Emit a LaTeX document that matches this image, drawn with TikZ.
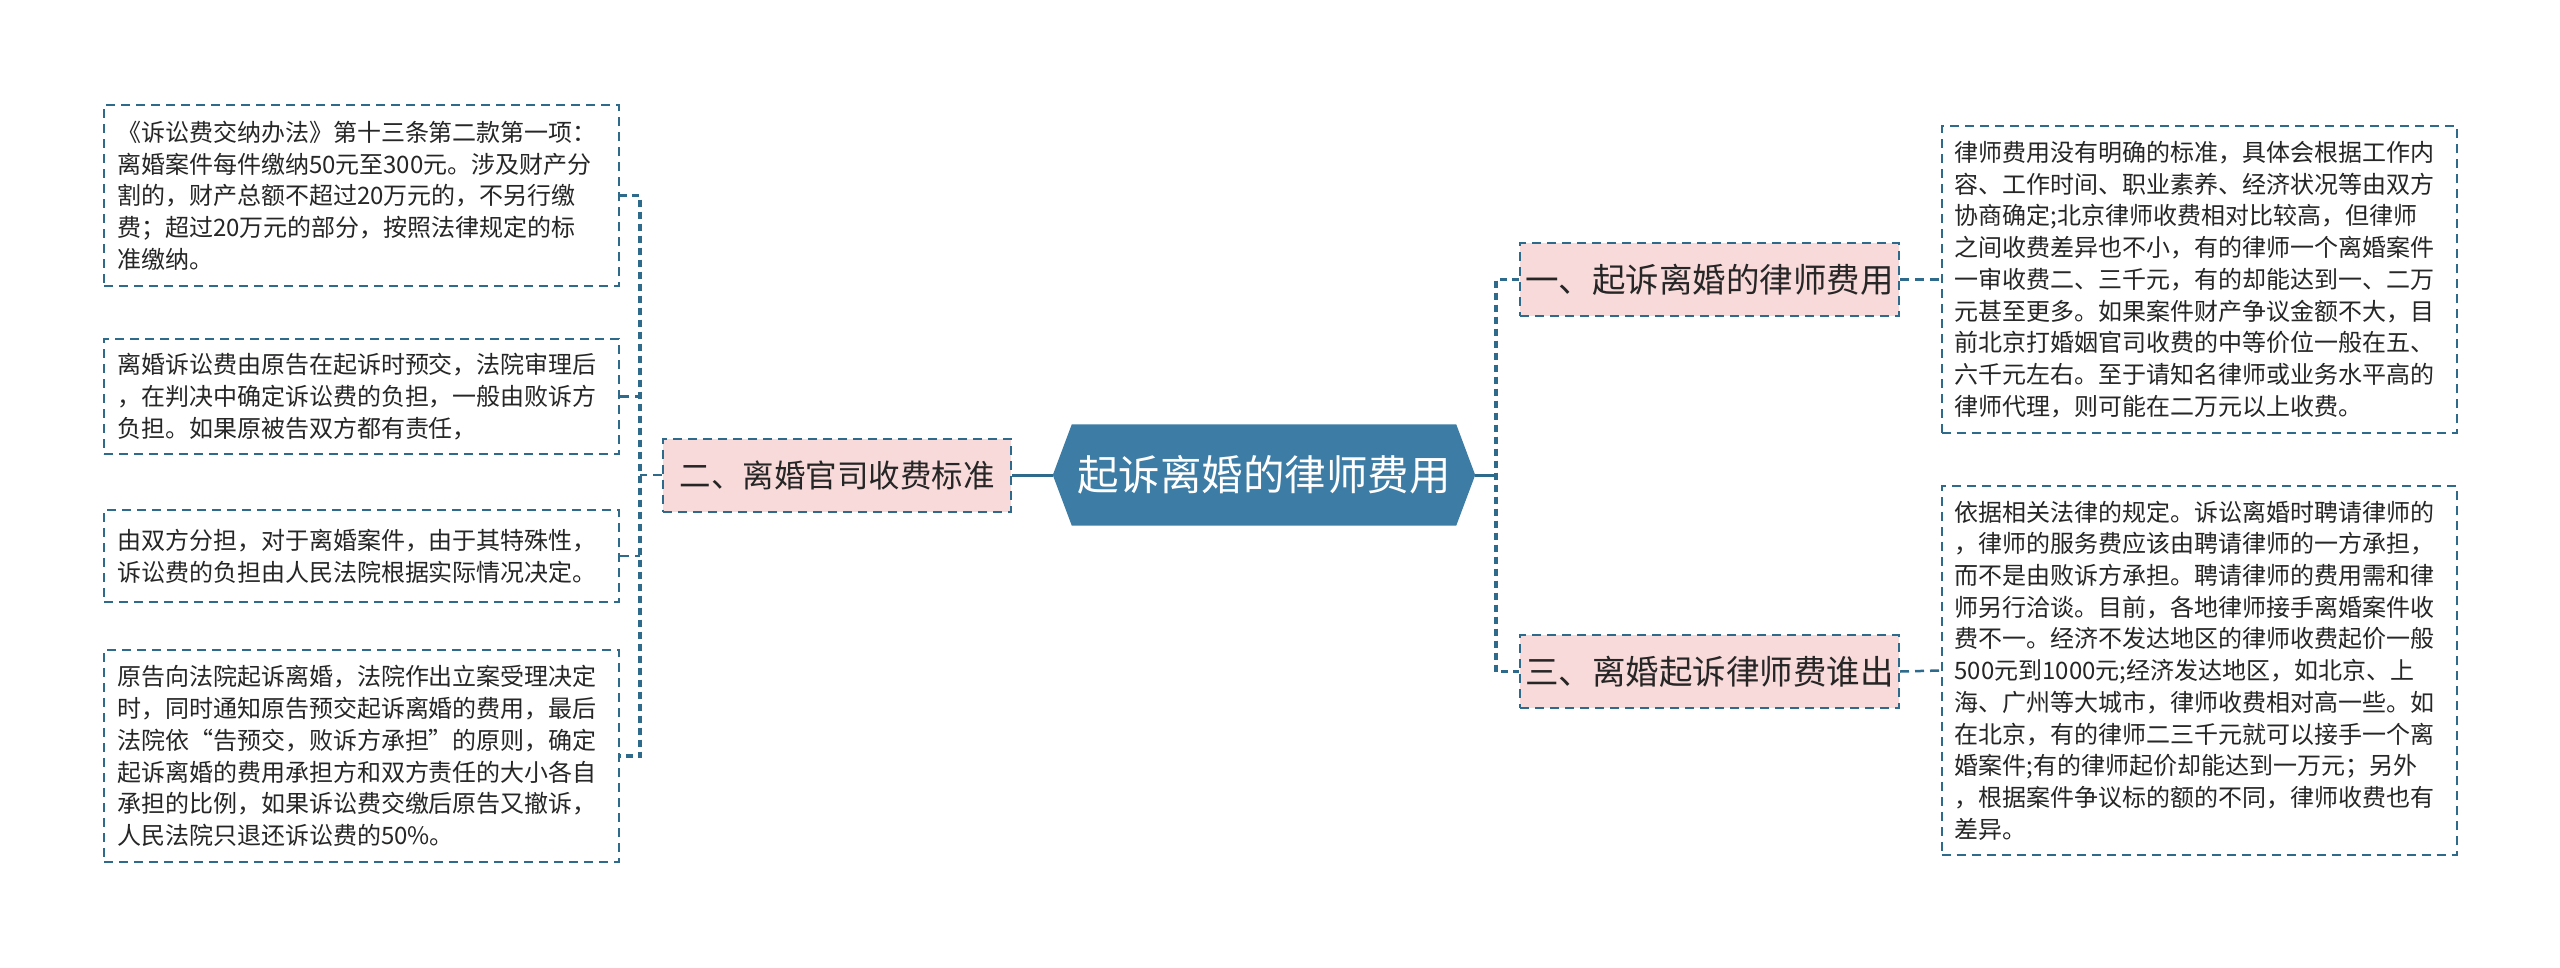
\documentclass[tikz,border=0pt]{standalone}
\usepackage{fontspec}
\setmainfont{Noto Sans CJK SC}
\usetikzlibrary{calc}
\definecolor{lineblue}{HTML}{2E6A8C}
\definecolor{pinkfill}{HTML}{F9DADA}
\definecolor{hexfill}{HTML}{3D7CA4}
\definecolor{txt}{HTML}{262626}
\pgfdeclarelayer{bg}
\pgfsetlayers{bg,main}
\begin{document}
\begin{tikzpicture}[x=1pt,y=-1pt,
  leaf/.style={draw=lineblue, line width=2pt, dash pattern=on 9pt off 6pt, fill=white,
    rectangle, inner xsep=13pt, inner ysep=0pt, text width=489pt, align=left,
    minimum width=515pt, font=\fontsize{24}{31.7}\selectfont, text=txt},
  branch/.style={draw=lineblue, line width=2pt, dash pattern=on 9pt off 6pt, fill=pinkfill,
    rectangle, inner sep=0pt, minimum height=73pt, text=txt},
  conn/.style={draw=lineblue, line width=2.5pt, dash pattern=on 9pt off 6pt},
  trunk/.style={draw=lineblue, line width=3.5pt, dash pattern=on 7pt off 5pt},
  main/.style={draw=lineblue, line width=3pt}
]
\begin{pgfonlayer}{bg}
\fill[white] (0,0) rectangle (2560,967);
\end{pgfonlayer}
\useasboundingbox (0,0) rectangle (2560,967);

% centre
\node[font=\fontsize{41.5}{48}\selectfont, text=white, minimum width=422pt,
  minimum height=101pt, inner sep=0pt] (hex) at (1264,475) {起诉离婚的律师费用};
\begin{pgfonlayer}{bg}
\fill[hexfill] ([xshift=19pt]hex.north west) -- ([xshift=-19pt]hex.north east) -- (hex.east)
  -- ([xshift=-19pt]hex.south east) -- ([xshift=19pt]hex.south west) -- (hex.west) -- cycle;
\end{pgfonlayer}

% branches
\node[branch, minimum width=348pt, font=\fontsize{31.5}{36}\selectfont] (b2) at (837,475) {二、离婚官司收费标准};
\node[branch, minimum width=379pt, font=\fontsize{33.5}{40}\selectfont] (b1) at (1709.5,279.5) {一、起诉离婚的律师费用};
\node[branch, minimum width=379pt, font=\fontsize{33.5}{40}\selectfont] (b3) at (1709.5,671.5) {三、离婚起诉律师费谁出};

% left leaves
\node[leaf, minimum height=181pt] (L1) at (361.5,195.5) {《诉讼费交纳办法》第十三条第二款第一项：\\
离婚案件每件缴纳50元至300元。涉及财产分\\
割的，财产总额不超过20万元的，不另行缴\\
费；超过20万元的部分，按照法律规定的标\\
准缴纳。};
\node[leaf, minimum height=115pt] (L2) at (361.5,396.5) {离婚诉讼费由原告在起诉时预交，法院审理后\\
，在判决中确定诉讼费的负担，一般由败诉方\\
负担。如果原被告双方都有责任，};
\node[leaf, minimum height=92pt] (L3) at (361.5,556) {由双方分担，对于离婚案件，由于其特殊性，\\
诉讼费的负担由人民法院根据实际情况决定。};
\node[leaf, minimum height=212pt] (L4) at (361.5,756) {原告向法院起诉离婚，法院作出立案受理决定\\
时，同时通知原告预交起诉离婚的费用，最后\\
法院依“告预交，败诉方承担”的原则，确定\\
起诉离婚的费用承担方和双方责任的大小各自\\
承担的比例，如果诉讼费交缴后原告又撤诉，\\
人民法院只退还诉讼费的50\%。};

% right leaves
\node[leaf, minimum height=307pt] (R1) at (2199,279.5) {律师费用没有明确的标准，具体会根据工作内\\
容、工作时间、职业素养、经济状况等由双方\\
协商确定;北京律师收费相对比较高，但律师\\
之间收费差异也不小，有的律师一个离婚案件\\
一审收费二、三千元，有的却能达到一、二万\\
元甚至更多。如果案件财产争议金额不大，目\\
前北京打婚姻官司收费的中等价位一般在五、\\
六千元左右。至于请知名律师或业务水平高的\\
律师代理，则可能在二万元以上收费。};
\node[leaf, minimum height=369pt] (R2) at (2199,670.5) {依据相关法律的规定。诉讼离婚时聘请律师的\\
，律师的服务费应该由聘请律师的一方承担，\\
而不是由败诉方承担。聘请律师的费用需和律\\
师另行洽谈。目前，各地律师接手离婚案件收\\
费不一。经济不发达地区的律师收费起价一般\\
500元到1000元;经济发达地区，如北京、上\\
海、广州等大城市，律师收费相对高一些。如\\
在北京，有的律师二三千元就可以接手一个离\\
婚案件;有的律师起价却能达到一万元；另外\\
，根据案件争议标的额的不同，律师收费也有\\
差异。};

% connectors
\coordinate (tL) at (640,475);
\coordinate (tR) at (1496,475);
\draw[main] (hex.west) -- (b2.east);
\draw[main] (hex.east) -- (tR);
\draw[trunk] (b1.west) -- (b1.west -| tR) |- (b3.west);
\draw[conn] (b1.east) -- (R1.west);
\draw[conn] (b3.east) -- (R2.west);
\draw[trunk] (L1.east) -- (L1.east -| tL) |- (L4.east);
\draw[conn] (L2.east) -- (L2.east -| tL);
\draw[conn] (L3.east) -- (L3.east -| tL);
\draw[conn] (b2.west) -- (tL);
\end{tikzpicture}
\end{document}
